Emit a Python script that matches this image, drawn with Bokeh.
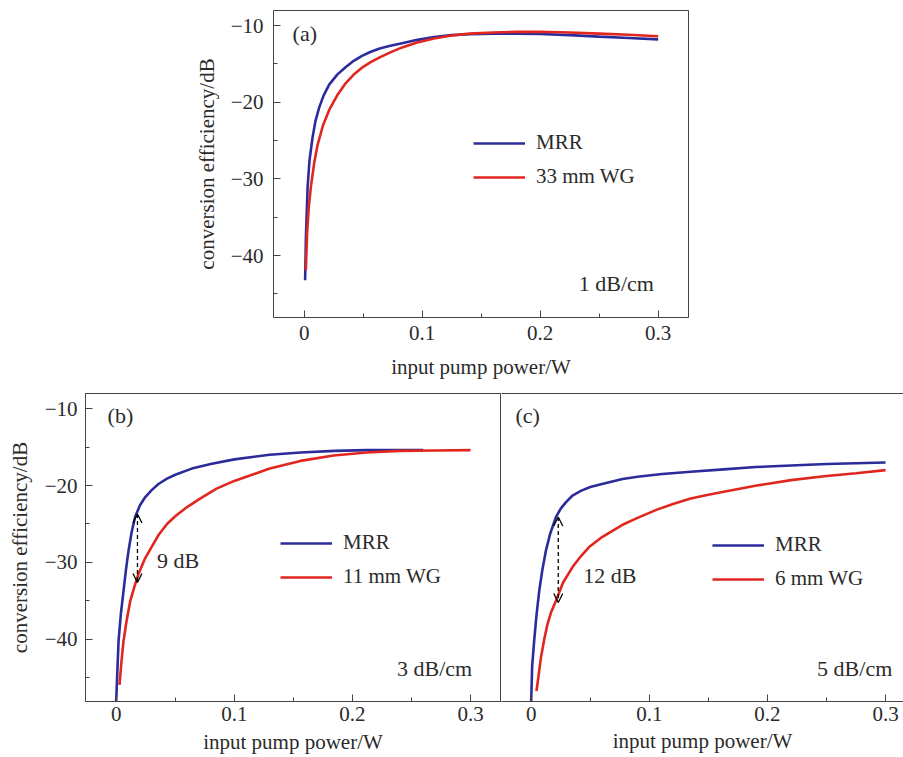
from bokeh.plotting import figure
from bokeh.layouts import column, row
from bokeh.models import (Range1d, FixedTicker, CustomJSTickFormatter, Label, Arrow,
                          OpenHead, Legend, LegendItem, LinearAxis)
from bokeh.embed import file_html
from bokeh.resources import INLINE

# ---------------- data ----------------
x_ticks = [0, 0.1, 0.2, 0.3]
x_minor = [0.05, 0.15, 0.25]
y_ticks = [-40, -30, -20, -10]
y_minor = [-45, -35, -25, -15]
x_label = "input pump power/W"
y_label = "conversion efficiency/dB"

# (a) 1 dB/cm
a_mrr_x = [0.0008, 0.0015, 0.0029, 0.0045, 0.0071, 0.0095, 0.0127, 0.0165, 0.0212, 0.028, 0.0353,
           0.042, 0.049, 0.056, 0.064, 0.073, 0.083, 0.095, 0.11, 0.125, 0.14, 0.16, 0.18, 0.2,
           0.225, 0.25, 0.275, 0.3]
a_mrr_y = [-43.2, -37.5, -31.1, -27.6, -24.6, -22.5, -20.7, -19.1, -17.7, -16.4, -15.4,
           -14.6, -13.95, -13.45, -13.0, -12.65, -12.3, -11.9, -11.5, -11.25, -11.13, -11.06, -11.05, -11.1,
           -11.25, -11.45, -11.62, -11.8]
a_wg_x = [0.0014, 0.0025, 0.004, 0.0057, 0.0085, 0.0113, 0.016, 0.0212, 0.028, 0.0353, 0.042, 0.049,
          0.056, 0.064, 0.073, 0.083, 0.095, 0.11, 0.125, 0.14, 0.16, 0.18, 0.2, 0.225, 0.25, 0.275, 0.3]
a_wg_y = [-41.9, -37.0, -33.5, -31.0, -27.9, -25.6, -23.0, -21.0, -19.1, -17.5, -16.4, -15.5,
          -14.8, -14.15, -13.5, -12.85, -12.25, -11.7, -11.3, -11.05, -10.9, -10.83, -10.82, -10.9,
          -11.05, -11.2, -11.4]

# (b) 3 dB/cm
b_mrr_x = [0.0, 0.001, 0.002, 0.004, 0.0062, 0.0083, 0.0104, 0.013, 0.016, 0.02, 0.0246, 0.03,
           0.0358, 0.043, 0.05, 0.064, 0.08, 0.1, 0.13, 0.156, 0.185, 0.212, 0.235, 0.26]
b_mrr_y = [-48.0, -44.0, -40.2, -36.6, -33.7, -30.9, -28.5, -26.1, -24.1, -22.6, -21.5, -20.6,
           -19.8, -19.1, -18.6, -17.8, -17.2, -16.6, -16.0, -15.7, -15.5, -15.4, -15.4, -15.4]
b_wg_x = [0.0028, 0.0045, 0.0062, 0.009, 0.0119, 0.0155, 0.0189, 0.024, 0.0299, 0.036, 0.043, 0.05,
          0.06, 0.071, 0.085, 0.1, 0.115, 0.13, 0.156, 0.184, 0.212, 0.24, 0.27, 0.3]
b_wg_y = [-45.9, -42.8, -40.2, -37.4, -35.0, -33.1, -31.5, -29.6, -28.0, -26.4, -25.0, -24.0,
          -22.8, -21.7, -20.4, -19.4, -18.6, -17.8, -16.8, -16.1, -15.7, -15.5, -15.45, -15.4]

# (c) 5 dB/cm
c_mrr_x = [0.0, 0.0008, 0.0025, 0.0045, 0.0068, 0.0095, 0.0124, 0.016, 0.0209, 0.025, 0.0293, 0.035,
           0.042, 0.05, 0.06, 0.0773, 0.09, 0.111, 0.135, 0.163, 0.19, 0.22, 0.25, 0.275, 0.3]
c_mrr_y = [-48.0, -43.5, -40.2, -36.8, -33.7, -30.9, -28.5, -26.3, -24.1, -23.0, -22.2, -21.3,
           -20.7, -20.2, -19.8, -19.15, -18.85, -18.5, -18.2, -17.9, -17.6, -17.4, -17.2, -17.1, -17.0]
c_wg_x = [0.0045, 0.0065, 0.0082, 0.011, 0.0138, 0.017, 0.0209, 0.027, 0.035, 0.042, 0.049, 0.06,
          0.0773, 0.09, 0.107, 0.12, 0.135, 0.15, 0.163, 0.191, 0.22, 0.248, 0.275, 0.3]
c_wg_y = [-46.7, -44.4, -42.4, -40.0, -38.0, -36.4, -35.0, -32.6, -30.6, -29.2, -28.0, -26.7,
          -25.1, -24.2, -23.1, -22.4, -21.7, -21.2, -20.8, -20.0, -19.3, -18.8, -18.4, -18.0]

# ---------------- style ----------------
FONT = "Liberation Serif"
TXT = "#2b2b2b"
AX = "#444444"
BLUE = "#2b2b9b"
RED = "#e0261f"

yfmt = CustomJSTickFormatter(code="return tick < 0 ? '\u2212' + Math.abs(tick) : String(tick);")
xfmt = CustomJSTickFormatter(code="return Math.abs(tick) < 1e-9 ? '0' : tick.toFixed(1);")


def style_axis(ax, fmt, ticks, minor):
    ax.ticker = FixedTicker(ticks=ticks, minor_ticks=minor)
    ax.formatter = fmt
    ax.axis_line_color = AX
    ax.major_tick_line_color = AX
    ax.minor_tick_line_color = AX
    ax.major_tick_in = 7
    ax.major_tick_out = 0
    ax.minor_tick_in = 4
    ax.minor_tick_out = 0
    ax.major_label_text_font = FONT
    ax.major_label_text_font_size = "21px"
    ax.major_label_text_color = TXT
    ax.axis_label_text_font = FONT
    ax.axis_label_text_font_size = "21px"
    ax.axis_label_text_font_style = "normal"
    ax.axis_label_text_color = TXT


def make_fig(width, height, left, right, top, bottom, xr, show_y=True):
    p = figure(width=width, height=height, output_backend="svg", toolbar_location=None,
               x_range=Range1d(*xr), y_range=Range1d(-48.07, -8.04),
               min_border_left=left, min_border_right=right,
               min_border_top=top, min_border_bottom=bottom,
               y_axis_location="left" if show_y else None)
    p.xgrid.visible = False
    p.ygrid.visible = False
    p.background_fill_color = "white"
    p.border_fill_color = "white"
    p.outline_line_color = AX
    p.outline_line_width = 1
    style_axis(p.xaxis[0], xfmt, x_ticks, x_minor)
    p.xaxis.axis_label = x_label
    if show_y:
        style_axis(p.yaxis[0], yfmt, y_ticks, y_minor)
        p.yaxis.axis_label = y_label
    return p


def add_curves(p, mx, my, wx, wy, wg_name, loc):
    r1 = p.line(mx, my, line_color=BLUE, line_width=2.6)
    r2 = p.line(wx, wy, line_color=RED, line_width=2.6)
    leg = Legend(items=[LegendItem(label="MRR", renderers=[r1]),
                        LegendItem(label=wg_name, renderers=[r2])],
                 location=loc, padding=0, margin=0, spacing=9,
                 glyph_width=52, glyph_height=24, label_height=24, label_standoff=11,
                 border_line_color=None, background_fill_alpha=0,
                 label_text_font=FONT, label_text_font_size="21px", label_text_color=TXT)
    p.add_layout(leg, "center")


def add_text(p, x, y, t, align="left"):
    p.add_layout(Label(x=x, y=y, text=t, text_font=FONT, text_font_size="22px",
                       text_color=TXT, text_align=align, text_baseline="middle"))


def add_arrow(p, x, y0, y1):
    p.add_layout(Arrow(start=OpenHead(size=9, line_width=1.3, line_color="black"),
                       end=OpenHead(size=9, line_width=1.3, line_color="black"),
                       x_start=x, y_start=y0, x_end=x, y_end=y1,
                       line_dash="4 3", line_width=1.3, line_color="black"))


# ---------------- panel (a) ----------------
pa = make_fig(693, 383, 273, 5, 10, 66, (-0.026, 0.3257))
pa.xaxis.major_label_standoff = 8
pa.xaxis.axis_label_standoff = 12
pa.yaxis.major_label_standoff = 10
pa.yaxis.axis_label_standoff = 9
add_curves(pa, a_mrr_x, a_mrr_y, a_wg_x, a_wg_y, "33 mm WG", (200, 128))
add_text(pa, -0.0098, -11.1, "(a)")
add_text(pa, 0.2964, -43.7, "1 dB/cm", "right")

# ---------------- panel (b) ----------------
pb = make_fig(501, 373, 85, 1, 10, 55, (-0.026, 0.3254))
pb.xaxis.major_label_standoff = 5
pb.xaxis.axis_label_standoff = 6
pb.yaxis.major_label_standoff = 8
pb.yaxis.axis_label_standoff = 10
add_curves(pb, b_mrr_x, b_mrr_y, b_wg_x, b_wg_y, "11 mm WG", (195, 112))
add_arrow(pb, 0.018, -23.7, -32.6)
add_text(pb, -0.0073, -10.9, "(b)")
add_text(pb, 0.0345, -29.8, "9 dB")
add_text(pb, 0.3014, -43.8, "3 dB/cm", "right")

# ---------------- panel (c) ----------------
pc = make_fig(402, 373, 0, 0, 10, 55, (-0.02515, 0.3152), show_y=False)
pc.outline_line_color = None
top_ax = LinearAxis(ticker=FixedTicker(ticks=[]), major_label_text_font_size="0px",
                    major_tick_in=0, major_tick_out=0, minor_tick_in=0, minor_tick_out=0,
                    major_label_standoff=0, axis_line_color=AX)
pc.add_layout(top_ax, "above")
pc.xaxis[0].major_label_standoff = 5
pc.xaxis[0].axis_label_standoff = 6
add_curves(pc, c_mrr_x, c_mrr_y, c_wg_x, c_wg_y, "6 mm WG", (211, 110))
add_arrow(pc, 0.0229, -24.1, -35.2)
add_text(pc, -0.0133, -10.9, "(c)")
add_text(pc, 0.044, -31.7, "12 dB")
add_text(pc, 0.3057, -43.8, "5 dB/cm", "right")

layout = column(pa, row(pb, pc))
open("out.html", "w").write(file_html(layout, INLINE))
